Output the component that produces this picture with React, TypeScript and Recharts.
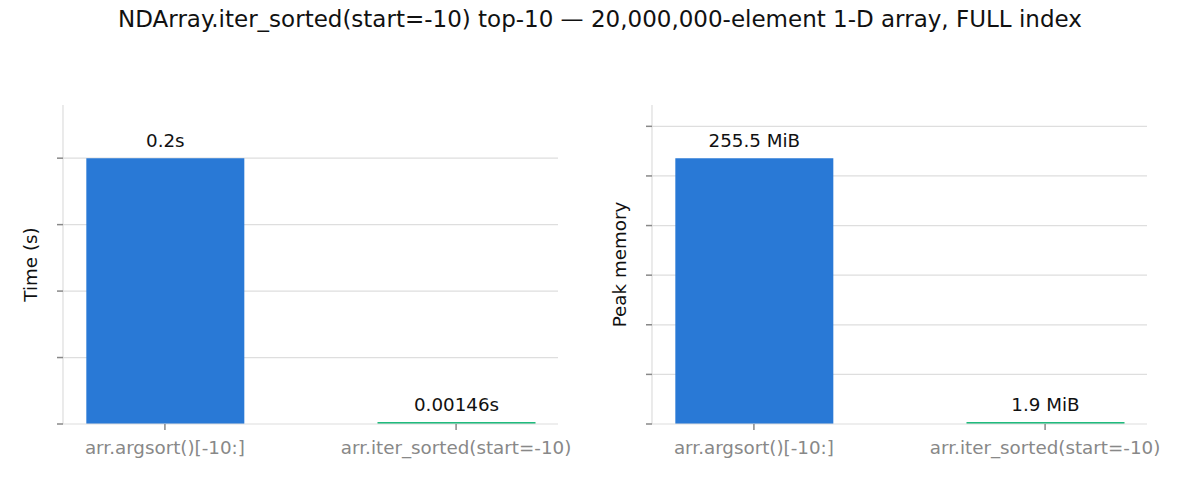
import React from "react";
import {
  BarChart,
  Bar,
  XAxis,
  YAxis,
  CartesianGrid,
  Cell,
  LabelList,
  Label,
} from "recharts";

const methods = ["arr.argsort()[-10:]", "arr.iter_sorted(start=-10)"];
const timeSeconds = [0.2, 0.00146];
const timeLabels = ["0.2s", "0.00146s"];
const memoryMiB = [255.5, 1.9];
const memoryLabels = ["255.5 MiB", "1.9 MiB"];
const barColors = ["#2979d6", "#1fbb7d"];

const timeTicks = [0, 0.05, 0.1, 0.15, 0.2];
// memory ticks every 50 MB (decimal), expressed in MiB
const memoryTicks = [0, 1, 2, 3, 4, 5, 6].map((i) => (i * 50e6) / 1048576);

const FONT = "'DejaVu Sans', sans-serif";

const timeData = methods.map((m, i) => ({ x: i, name: m, value: timeSeconds[i], label: timeLabels[i] }));
const memoryData = methods.map((m, i) => ({ x: i, name: m, value: memoryMiB[i], label: memoryLabels[i] }));

function Panel({ data, ticks, ymax, ylabel, axisWidth, left }: any) {
  return (
    <div style={{ position: "absolute", left, top: 0 }}>
      <BarChart
        width={600}
        height={480}
        data={data}
        margin={{ top: 105, right: 600 - 495 - axisWidth, bottom: 0, left: 0 }}
      >
        <CartesianGrid horizontal vertical={false} stroke="#dedede" strokeWidth={1.2} horizontalValues={ticks.slice(1)} />
        <XAxis
          dataKey="x"
          type="number"
          domain={[-0.35, 1.35]}
          ticks={[0, 1]}
          allowDecimals
          height={56}
          tickFormatter={(v: number) => methods[v]}
          stroke="#dddddd"
          strokeWidth={1.2}
          tickLine={{ stroke: "#888888", strokeWidth: 1.5 }}
          tickSize={6}
          tickMargin={11}
          tick={{ fill: "#888888", fontSize: 18.3, fontFamily: FONT }}
        />
        <YAxis
          type="number"
          domain={[0, ymax]}
          ticks={ticks}
          width={axisWidth}
          tickFormatter={() => ""}
          stroke="#dddddd"
          strokeWidth={1.2}
          tickLine={{ stroke: "#888888", strokeWidth: 1.5 }}
          tickSize={6}
        >
          <Label
            content={(props: any) => {
              const vb = props.viewBox;
              const cx = vb.x + vb.width - 33;
              const cy = vb.y + vb.height / 2;
              return (
                <text
                  x={cx}
                  y={cy}
                  transform={`rotate(-90 ${cx} ${cy})`}
                  textAnchor="middle"
                  dominantBaseline="central"
                  fontSize={18.3}
                  fontFamily={FONT}
                  fill="#111"
                >
                  {ylabel}
                </text>
              );
            }}
          />
        </YAxis>
        <Bar dataKey="value" barSize={158} isAnimationActive={false}>
          {data.map((d: any, i: number) => (
            <Cell key={d.name} fill={barColors[i]} />
          ))}
          <LabelList
            dataKey="label"
            position="top"
            offset={11}
            fill="#111"
            fontSize={18.3}
            fontFamily={FONT}
          />
        </Bar>
      </BarChart>
    </div>
  );
}

export default function App() {
  return (
    <div
      style={{
        position: "absolute",
        left: 0,
        top: 0,
        width: 1200,
        height: 480,
        background: "#fff",
        fontFamily: FONT,
      }}
    >
      <div
        style={{
          position: "absolute",
          top: 6,
          left: 0,
          width: 1200,
          textAlign: "center",
          fontSize: 23,
          color: "#111",
          fontFamily: FONT,
        }}
      >
        NDArray.iter_sorted(start=-10) top-10 — 20,000,000-element 1-D array, FULL index
      </div>
      <Panel data={timeData} ticks={timeTicks} ymax={0.24} ylabel="Time (s)" axisWidth={63} left={0} />
      <Panel
        data={memoryData}
        ticks={memoryTicks}
        ymax={255.5 * 1.2}
        ylabel="Peak memory"
        axisWidth={52}
        left={600}
      />
    </div>
  );
}
